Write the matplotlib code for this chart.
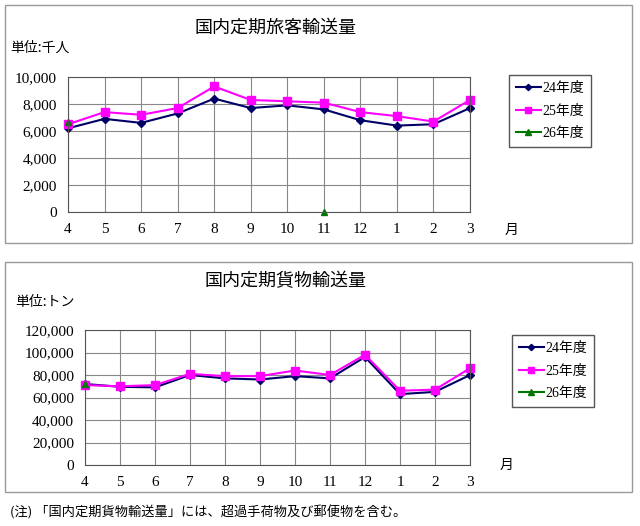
import matplotlib.pyplot as plt
from matplotlib.patches import Rectangle

plt.rcParams['font.family'] = ['Liberation Serif', 'Noto Sans CJK JP']

nan = float('nan')
months = ['4', '5', '6', '7', '8', '9', '10', '11', '12', '1', '2', '3']
pax_24 = [6200, 6900, 6600, 7300, 8400, 7700, 7900, 7600, 6800, 6400, 6500, 7700]
pax_25 = [6500, 7400, 7200, 7700, 9300, 8300, 8200, 8100, 7400, 7100, 6700, 8300]
pax_26 = [6700, nan, nan, nan, nan, nan, nan, 0, nan, nan, nan, nan]
cargo_24 = [72000, 69500, 69000, 80000, 77000, 76000, 79000, 77000, 96000, 63000, 65000, 80000]
cargo_25 = [71000, 70000, 71000, 81000, 79000, 79000, 84000, 80000, 98000, 66000, 67000, 86000]
cargo_26 = [72000] + [nan] * 11

W, H = 640, 526
fig = plt.figure(figsize=(6.4, 5.26), dpi=100)

def px(x, y):
    return x / W, 1 - y / H

for (x0, y0, x1, y1) in [(5, 5, 632, 243), (5, 262, 632, 492)]:
    fig.patches.append(Rectangle((x0 / W, 1 - y1 / H), (x1 - x0) / W, (y1 - y0) / H,
                                 transform=fig.transFigure, fill=False, ec='#999999', lw=1))

def panel(rect, s24, s25, s26, ymax, step, title, tpos, unit, upos, mpos, legpos):
    ax = fig.add_axes(rect)
    xs = list(range(12))
    ax.plot(xs, s24, color='#000066', marker='D', ms=4, lw=1.5, label='24年度')
    ax.plot(xs, s25, color='#ff00ff', marker='s', ms=6, lw=1.5, label='25年度')
    ax.plot(xs, s26, color='#007700', marker='^', ms=5, lw=1.5, label='26年度')
    ax.set_xlim(0, 11)
    ax.set_ylim(0, ymax)
    ax.set_yticks(range(0, ymax + 1, step))
    ax.set_yticklabels([f'{v:,}' for v in range(0, ymax + 1, step)], fontsize=11)
    ax.set_xticks(xs)
    ax.set_xticklabels(months, fontsize=11)
    ax.tick_params(length=0, pad=8)
    ax.grid(True, color='#888888', lw=0.8)
    for s in ax.spines.values():
        s.set_color('#555555')
    for line in ax.lines:
        line.set_clip_on(False)
    fig.text(*px(*tpos), title, fontsize=13, ha='center', va='center', family='Noto Sans CJK JP')
    fig.text(*px(*upos), unit, fontsize=10, va='center', family='Noto Sans CJK JP')
    fig.text(*px(*mpos), '月', fontsize=10, va='center', family='Noto Sans CJK JP')
    ax.legend(loc='upper left', bbox_to_anchor=px(*legpos), bbox_transform=fig.transFigure,
              fancybox=False, edgecolor='#555555', fontsize=10, handlelength=1.8,
              handletextpad=0.1, borderpad=0.5, labelspacing=0.7, framealpha=1,
              markerscale=0.8)
    return ax

panel([68 / W, 1 - 212 / H, 402 / W, 135 / H], pax_24, pax_25, pax_26,
      10000, 2000, '国内定期旅客輸送量', (275, 28), '単位:千人', (10, 48), (505, 230), (502, 68))
panel([85 / W, 1 - 465 / H, 385 / W, 135 / H], cargo_24, cargo_25, cargo_26,
      120000, 20000, '国内定期貨物輸送量', (285, 281), '単位:トン', (15, 302), (500, 465), (505, 328))

fig.text(*px(10, 512), '(注) 「国内定期貨物輸送量」には、超過手荷物及び郵便物を含む。', fontsize=9.5,
         va='center', family='Noto Sans CJK JP')

fig.savefig('out.png', dpi=100)
